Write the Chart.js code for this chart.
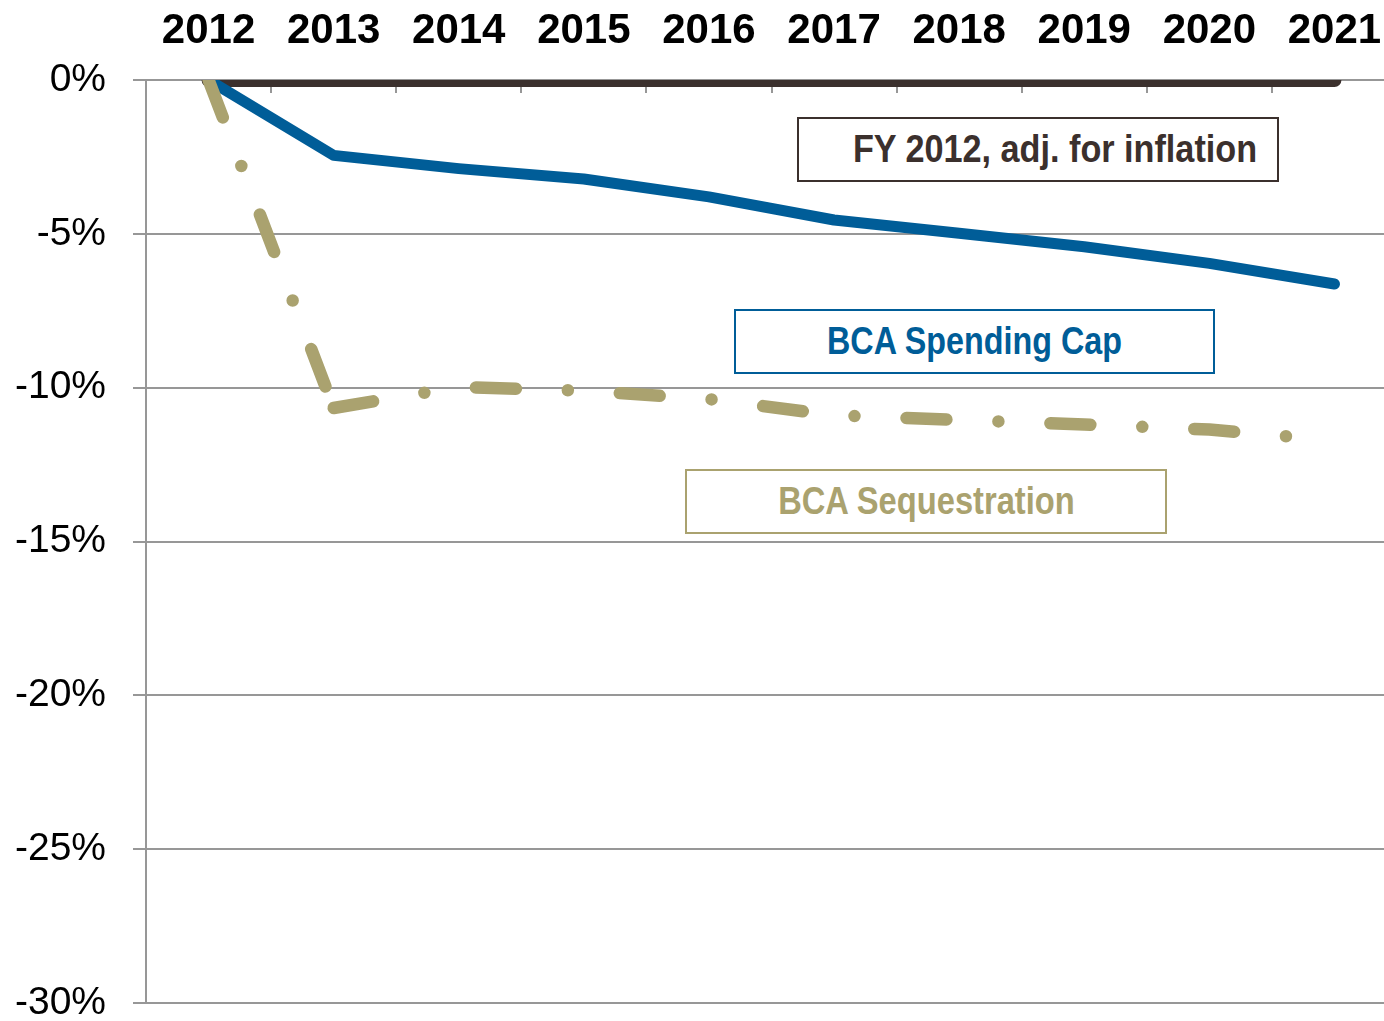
<!DOCTYPE html>
<html>
<head>
<meta charset="utf-8">
<script src="https://cdn.jsdelivr.net/npm/chart.js@4.4.1/dist/chart.umd.min.js"></script>
<style>
  html, body { margin: 0; padding: 0; background: #fff; overflow: hidden; }
  #wrap { position: relative; width: 1400px; height: 1021px; overflow: hidden; }
  #c { position: absolute; left: 0; top: 0; }
  .box {
    position: absolute; box-sizing: border-box; border: 2px solid;
    display: flex; align-items: center; justify-content: center;
    font-family: "Liberation Sans", Arial, sans-serif;
    font-weight: bold; font-size: 38px; white-space: nowrap; background: #fff;
  }
  .box span { display: inline-block; }
</style>
</head>
<body>
<div id="wrap">
  <canvas id="c" width="1400" height="1050"></canvas>
  <div class="box" style="left:797px;top:117px;width:482px;height:65px;border-color:#3b302d;color:#3b302d;justify-content:flex-end;padding-right:20px;"><span style="transform:scaleX(0.9);transform-origin:right center;">FY 2012, adj. for inflation</span></div>
  <div class="box" style="left:734px;top:309px;width:481px;height:65px;border-color:#005d98;color:#005d98;"><span style="transform:scaleX(0.85);">BCA Spending Cap</span></div>
  <div class="box" style="left:685px;top:469px;width:482px;height:65px;border-color:#aaa26f;color:#aaa26f;"><span style="transform:scaleX(0.86);">BCA Sequestration</span></div>
</div>
<script>
const years = ['2012','2013','2014','2015','2016','2017','2018','2019','2020','2021'];
const baselineFY2012 = [0, 0, 0, 0, 0, 0, 0, 0, 0, 0];
const bcaSpendingCap = [0, -2.45, -2.88, -3.22, -3.8, -4.55, -4.98, -5.42, -5.96, -6.63];
const bcaSequestration = [0, -10.66, -9.98, -10.1, -10.37, -10.9, -11.05, -11.2, -11.36, -11.72];
const yMin = -30, yMax = 0, yStep = 5;

const GRID = '#979797';

const innerTicks = {
  id: 'innerTicks',
  beforeDatasetsDraw(chart) {
    const x = chart.scales.x, area = chart.chartArea, ctx = chart.ctx;
    ctx.save();
    ctx.strokeStyle = GRID;
    ctx.lineWidth = 2;
    for (let i = 0; i < years.length - 1; i++) {
      const px = Math.round((x.getPixelForValue(i) + x.getPixelForValue(i + 1)) / 2);
      ctx.beginPath();
      ctx.moveTo(px, area.top);
      ctx.lineTo(px, area.top + 13);
      ctx.stroke();
    }
    ctx.restore();
  }
};

new Chart(document.getElementById('c'), {
  type: 'line',
  data: {
    labels: years,
    datasets: [
      {
        label: 'BCA Sequestration',
        data: bcaSequestration,
        borderColor: '#aaa26f',
        borderWidth: 12.5,
        borderDash: [40, 52, 0, 52],
        borderCapStyle: 'round',
        borderJoinStyle: 'round',
        segment: {
          borderDashOffset: ctx => (ctx.p0DataIndex === 0 ? 0 : 0.01)
        },
        pointRadius: 0,
        tension: 0,
        clip: 0,
        order: 1
      },
      {
        label: 'BCA Spending Cap',
        data: bcaSpendingCap,
        borderColor: '#005d98',
        borderWidth: 11,
        borderCapStyle: 'round',
        borderJoinStyle: 'round',
        pointRadius: 0,
        tension: 0,
        clip: 0,
        order: 2
      },
      {
        label: 'FY 2012, adj. for inflation',
        data: baselineFY2012,
        borderColor: '#3b302d',
        borderWidth: 14,
        borderCapStyle: 'round',
        pointRadius: 0,
        tension: 0,
        clip: 0,
        order: 3
      }
    ]
  },
  options: {
    responsive: false,
    animation: false,
    devicePixelRatio: 1,
    layout: { padding: { left: 0, right: 3, top: 0, bottom: 47 } },
    plugins: { legend: { display: false }, tooltip: { enabled: false } },
    scales: {
      x: {
        type: 'category',
        position: 'top',
        offset: true,
        grid: { display: false, drawTicks: false },
        border: { display: false },
        ticks: {
          color: '#000',
          font: { family: '"Liberation Sans", Arial, sans-serif', size: 42, weight: 'bold', lineHeight: 2.333 },
          padding: 0,
          maxRotation: 0,
          autoSkip: false
        },
        afterFit(s) { s.height = 80; }
      },
      y: {
        min: yMin,
        max: yMax,
        ticks: {
          stepSize: yStep,
          color: '#000',
          font: { family: '"Liberation Sans", Arial, sans-serif', size: 39, lineHeight: 0.8 },
          padding: 27,
          callback: v => v + '%'
        },
        grid: { color: GRID, lineWidth: 2, tickLength: 13, drawTicks: true },
        border: { display: true, color: GRID, width: 2 },
        afterFit(s) { s.width = 146; }
      }
    }
  },
  plugins: [innerTicks]
});
</script>
</body>
</html>
